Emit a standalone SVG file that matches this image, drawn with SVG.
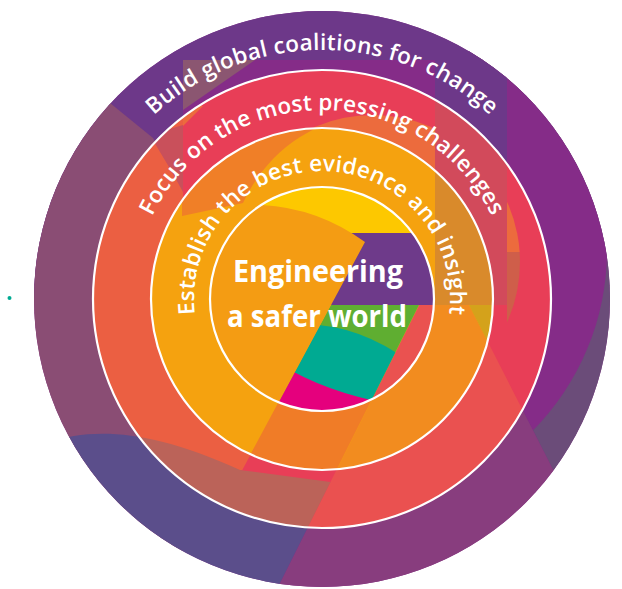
<svg xmlns="http://www.w3.org/2000/svg" xmlns:xlink="http://www.w3.org/1999/xlink" width="622" height="589" viewBox="0 0 622 589">
<style>
.ring{fill:none;stroke:#ffffff;stroke-width:2.2}
.arc{font-family:"Open Sans","Noto Sans","Liberation Sans",sans-serif;font-size:22.5px;font-weight:600;fill:#ffffff}
.core{font-family:"Open Sans","Noto Sans","Liberation Sans",sans-serif;font-size:30px;font-weight:700;fill:#ffffff}
</style>
<defs>
<clipPath id="cOuter"><circle cx="322" cy="299" r="288"/></clipPath>
<clipPath id="cR2"><circle cx="322" cy="299" r="229"/></clipPath>
<clipPath id="cR3"><circle cx="322" cy="299" r="171"/></clipPath>
<clipPath id="cIn"><circle cx="322" cy="299" r="112"/></clipPath>
<clipPath id="cRightC"><path d="M469,305 L645,650 L700,650 L700,-20 L469,-20 Z"/></clipPath>
<clipPath id="cAB"><path d="M330.7,305 L419,305 L246.5,650 L145.3,650 Z"/></clipPath>
<clipPath id="cOtop"><rect x="0" y="0" width="435" height="252"/><rect x="507" y="0" width="115" height="252"/></clipPath>
<clipPath id="cObot"><rect x="507" y="252" width="115" height="80"/></clipPath>
<path id="pBC" d="M420,303 L469,305 L645,650 L246.5,650 Z"/>
<path id="pAB" d="M330.7,305 L419,305 L246.5,650 L145.3,650 Z"/>
<path id="pRC" d="M469,305 L645,650 L700,650 L700,305 Z"/>
<path id="pBlue" d="M-10,452 L50,442 C90,428 150,428 240,470 L330.5,482 L246.5,650 L-10,650 Z"/>
<rect id="pStrip" x="435" y="40" width="72" height="265"/>
<path id="tp1" d="M106.4,423.5 A249,249 0 1 1 537.6,423.5"/>
<path id="tp2" d="M158.3,393.5 A189,189 0 1 1 485.7,393.5"/>
<path id="tp3" d="M211.1,363 A128,128 0 1 1 432.9,363"/>
</defs>

<g id="ring-outer" clip-path="url(#cOuter)">
<rect x="0" y="0" width="622" height="589" fill="#852c88"/>
<g clip-path="url(#cRightC)">
<rect x="0" y="0" width="622" height="589" fill="#6b4c79"/>
<circle cx="350" cy="250" r="257" fill="#852c88"/>
</g>
<path d="M0,0 H622 V60 H507 V330 H435 V60 H183 V300 H0 Z" fill="#6d3889"/>
<path d="M183,60 L255,60 L183,110 Z" fill="#8b5671"/>
<path d="M-10,20 L30,40 L110,103 L153,138 L183,190 L183,600 L-10,600 Z" fill="#8a4d74"/>
<use href="#pBC" fill="#883d7e"/>
<use href="#pBlue" fill="#5b4e8b"/>
</g>

<g id="ring-second" clip-path="url(#cR2)">
<rect x="0" y="0" width="622" height="589" fill="#e83e57"/>
<circle cx="373" cy="262" r="147" fill="#ec6b3d" clip-path="url(#cOtop)"/>
<circle cx="373" cy="262" r="147" fill="#cf5e4a" clip-path="url(#cObot)"/>
<path d="M-10,-10 H183 V216 L378.8,216 L242.3,470 L-10,470 Z" fill="#eb5f42"/>
<path d="M150,135 L183,125 L183,192 L172,172 L160,152 Z" fill="#c9505b"/>
<path d="M183,106 L203,106 L183,126 Z" fill="#ec6b3d"/>
<use href="#pStrip" fill="#d24a5b"/>
<use href="#pBC" fill="#ea5150"/>
<use href="#pBlue" fill="#bb6359"/>
</g>

<g id="ring-third" clip-path="url(#cR3)">
<rect x="0" y="0" width="622" height="589" fill="#f5a20f"/>
<path d="M182,100 L182,216 L243,203 C255,178 272,155 300,137 L330,120 L330,100 Z" fill="#f07f27"/>
<use href="#pAB" fill="#f07c27"/>
<use href="#pBC" fill="#f28c1f"/>
<use href="#pRC" fill="#d4a21b"/>
<use href="#pStrip" fill="#d98a2b"/>
</g>

<g id="core" clip-path="url(#cIn)">
<rect x="0" y="0" width="622" height="589" fill="#fdc800"/>
<rect x="0" y="233" width="622" height="72" fill="#6e3a8a"/>
<path d="M419,305 L700,305 L700,650 L246.5,650 Z" fill="#ea5250"/>
<g clip-path="url(#cAB)">
<rect x="0" y="300" width="622" height="300" fill="#5fae31"/>
<path d="M300,325 Q355,322 410,362 L420,650 L140,650 Z" fill="#00aa92"/>
<path d="M280,364 Q325,392 390,404 L420,410 L420,650 L140,650 Z" fill="#e5007d"/>
</g>
<path d="M262,205 Q318,208 365,242 L145.3,650 L-10,650 L-10,150 Z" fill="#f49c13"/>
</g>

<g id="rings">
<circle class="ring" cx="322" cy="299" r="229"/>
<circle class="ring" cx="322" cy="299" r="171"/>
<circle class="ring" cx="322" cy="299" r="112"/>
</g>

<g id="labels">
<text class="arc"><textPath href="#tp1" startOffset="50%" text-anchor="middle" textLength="369" lengthAdjust="spacing">Build global coalitions for change</textPath></text>
<text class="arc"><textPath href="#tp2" startOffset="50%" text-anchor="middle" textLength="422" lengthAdjust="spacing">Focus on the most pressing challenges</textPath></text>
<text class="arc"><textPath href="#tp3" startOffset="50%" text-anchor="middle" textLength="432" lengthAdjust="spacing">Establish the best evidence and insight</textPath></text>
<text class="core" x="233" y="282" textLength="170" lengthAdjust="spacingAndGlyphs">Engineering</text>
<text class="core" x="227" y="327" textLength="180" lengthAdjust="spacingAndGlyphs">a safer world</text>
</g>

<circle id="dot" cx="9.5" cy="298" r="2" fill="#00aa92"/>
</svg>
